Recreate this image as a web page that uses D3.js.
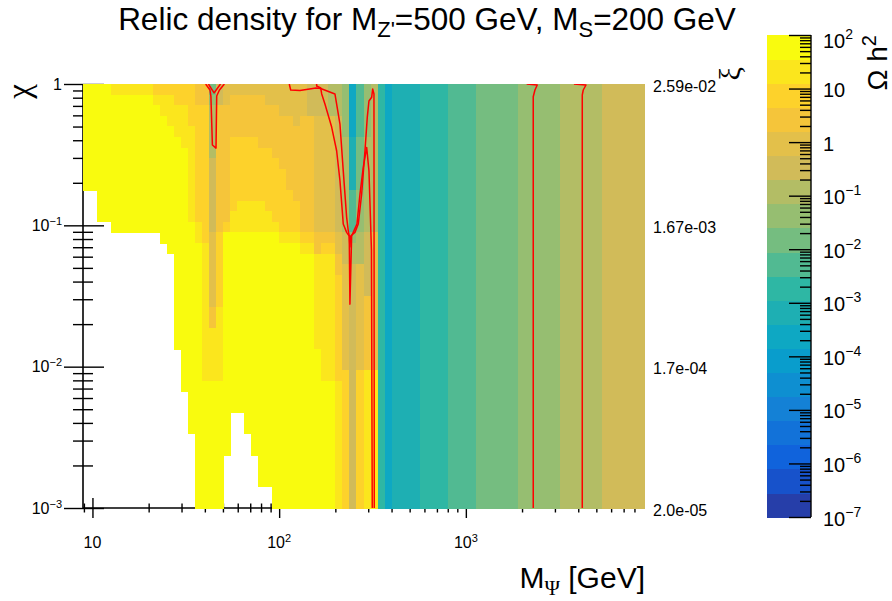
<!DOCTYPE html>
<html>
<head>
<meta charset="utf-8">
<script src="https://cdn.jsdelivr.net/npm/d3@7"></script>
<style>
body { margin: 0; background: #fff; }
svg { display: block; }
text { font-family: "Liberation Sans", Arial, Helvetica, sans-serif; fill: #000; }
.greek { font-family: "Liberation Serif", "DejaVu Serif", serif; }
</style>
</head>
<body>
<div class="relic"></div>
<script>
// relic density map, Omega h^2 over (M_Psi, chi)

WIDTH = 892
HEIGHT = 601
// histogram frame and palette box, pixels
PLOT_L = 83, PLOT_R = 644, PLOT_T = 84, PLOT_B = 508
PAL_L = 767, PAL_R = 811, PAL_T = 35, PAL_B = 517

// axis ranges
var massRange = [8.9, 9000];       // M_Psi [GeV]
var chiRange = [1e-3, 1];
var omegaRange = [1e-7, 1e2];
var massBins = 80, chiBins = 40;

var massTicks = [10, 100, 1000];
var chiTicks = [1, 1e-1, 1e-2, 1e-3];
var xiLabels = ["2.59e-02", "1.67e-03", "1.7e-04", "2.0e-05"];
var omegaTicks = [1e2, 1e1, 1, 1e-1, 1e-2, 1e-3, 1e-4, 1e-5, 1e-6, 1e-7];

// Omega h^2, one char per bin, coded by colour band:
// band k covers 10^(-7+0.45k) .. 10^(-7+0.45(k+1)), "." = no point.
// rows run from chi = 1 down to chi = 1e-3, first 42 mass bins
var bandKeys = "0123456789abcdefghij";
var omegaRows = [
  "jjjj iiiiii hhhhhh ggbeff ffffff ffffee eddc7a cd",
  "jjjj jjjjjj iiihhh ggcefg ggggff ffffee eddc7a cd",
  "jjjj jjjjjj jiiiih hhdggg gggggg ffffee eddc7a cd",
  "jjjj jjjjjj jjiiih hhdggg gggggg ggfggf ffec7a cd",
  "jjjj jjjjjj jjjiii hhdggg gggggg gggggf ffec7a cd",
  "jjjj jjjjjj jjjjii hhdggh hhhggg gggggf ffed8b dd",
  "jjjj jjjjjj jjjjji hhdggh hhhhhg gggggf ffed8b dd",
  "jjjj jjjjjj jjjjji hheggh hhhhhh gggggf ffed8b dd",
  "jjjj jjjjjj jjjjji hheggh hhhhhh hggggf ffed8b dd",
  "jjjj jjjjjj jjjjji hheggh hhhhhh hggggf ffed8b dd",
  "..jj jjjjjj jjjjji hheggh hhhhhh hhgggf ffedac dd",
  "..jj jjjjjj jjjjji hheggh iiiihh hhhggf ffedac dd",
  "..jj jjjjjj jjjjji hheggi iiiiih hhhggf ffedac dd",
  ".... jjjjjj jjjjjj iheghi iiiiii hhhggf ffedac dd",
  ".... ...... .jjjjj ihfhjj jjjjjj iiihhg ggfecd ef",
  ".... ...... ..jjjj jifhjj jjjjjj jjjiig hhfedd ef",
  ".... ...... ...jjj jifhjj jjjjjj jjjjji iigedd ef",
  ".... ...... ...jjj jifhjj jjjjjj jjjjji iigfef ef",
  ".... ...... ...jjj jifhjj jjjjjj jjjjji iihfef ef",
  ".... ...... ...jjj jifhjj jjjjjj jjjjji iihfef ef",
  ".... ...... ...jjj jifhjj jjjjjj jjjjji iihfef gf",
  ".... ...... ...jjj jigijj jjjjjj jjjjji iihfef gf",
  ".... ...... ...jjj jigijj jjjjjj jjjjji iihfef gf",
  ".... ...... ...jjj jiiijj jjjjjj jjjjji iihfef gf",
  ".... ...... ...jjj jiiijj jjjjjj jjjjji iihfef gf",
  ".... ...... ....jj jiiijj jjjjjj jjjjjj iihfef gf",
  ".... ...... ....jj jiiijj jjjjjj jjjjjj iihfef gf",
  ".... ...... ....jj jiiijj jjjjjj jjjjjj iihheh ii",
  ".... ...... ....jj jjjjjj jjjjjj jjjjjj jjiheh ii",
  ".... ...... .....j jjjjjj jjjjjj jjjjjj jjiheh ii",
  ".... ...... .....j jjjjjj jjjjjj jjjjjj jjiheh ii",
  ".... ...... .....j jjjjj. .jjjjj jjjjjj jjiheh ii",
  ".... ...... .....j jjjjj. .jjjjj jjjjjj jjiheh ii",
  ".... ...... ...... jjjjj. ..jjjj jjjjjj jjiheh ii",
  ".... ...... ...... jjjjj. ..jjjj jjjjjj jjiheh ii",
  ".... ...... ...... jjjj.. ...jjj jjjjjj jjiheh ii",
  ".... ...... ...... jjjj.. ...jjj jjjjjj jjiheh ii",
  ".... ...... ...... jjjj.. ...jjj jjjjjj jjiheh ii",
  ".... ...... ...... jjjj.. .....j jjjjjj jjiheh ii",
  ".... ...... ...... jjjj.. .....j jjjjjj jjiheh ii"
];
// above the Z'S threshold the value no longer depends on chi: mass bins 42..79
var omegaFar = "9788889999aaaabbbbbbccccccddddddeeeeee";

// red contours, [M_Psi, chi]
var contourZ1 = [[40.4, 1], [42.6, 0.907], [43.1, 0.822], [43.9, 0.370], [45.9, 0.352],
                 [46.3, 0.822], [47.9, 0.907], [50.9, 1]];
var contourZ2 = [[41.8, 1], [44.8, 0.864], [48.5, 1]];
var contourOuter = [[158.8, 1], [158.8, 0.968], [166.9, 0.937], [169.0, 0.850], [175.9, 0.722],
                    [191.1, 0.496], [203.2, 0.337], [211.7, 0.207], [220.5, 0.1021], [229.9, 0.0892],
                    [237.4, 0.0840], [239.4, 0.0702], [241.5, 0.0840], [254.7, 0.0892], [265.3, 0.1021],
                    [276.7, 0.1665], [288.2, 0.337], [296.5, 0.581], [302.7, 0.758], [313.0, 0.805],
                    [316.9, 0.922], [322.0, 0.850], [323.2, 0.001]];
var contourInner = [[113.3, 1], [115.3, 0.907], [129.2, 0.899], [157.4, 0.937], [166.9, 0.929],
                    [199.0, 0.850], [211.7, 0.521], [220.5, 0.243], [229.9, 0.1139], [234.5, 0.0916],
                    [237.4, 0.0840], [239.4, 0.0277], [244.5, 0.0840], [249.4, 0.0892], [261.1, 0.1021],
                    [271.0, 0.1665], [282.2, 0.257], [294.3, 0.356], [302.7, 0.243], [312.2, 0.0669],
                    [315.3, 0.001]];
var contourHeavy1 = [[2117, 1], [2412, 0.984], [2345, 0.907], [2296, 0.813], [2296, 0.001]];
var contourHeavy2 = [[3793, 1], [4399, 0.984], [4255, 0.907], [4203, 0.836], [4203, 0.001]];

// ROOT kParula, 20 contour levels
var parulaStops = [0, 0.125, 0.25, 0.375, 0.5, 0.625, 0.75, 0.875, 1];
var parulaR = [0.2082, 0.0592, 0.0780, 0.0232, 0.1802, 0.5301, 0.8186, 0.9956, 0.9764];
var parulaG = [0.1664, 0.3599, 0.5041, 0.6419, 0.7178, 0.7492, 0.7328, 0.7862, 0.9832];
var parulaB = [0.5293, 0.8684, 0.8385, 0.7914, 0.6425, 0.4662, 0.3499, 0.1968, 0.0539];
var NCONT = 20;

var parula = d3.scaleLinear()
    .domain(parulaStops)
    .range(parulaStops.map(function(s, i) {
        return d3.rgb(parulaR[i] * 255, parulaG[i] * 255, parulaB[i] * 255).formatHex();
    }));
var bandColors = d3.range(NCONT).map(function(k) { return parula((k + 0.99) / NCONT); });
var colour = d3.scaleQuantize()
    .domain([Math.log10(omegaRange[0]), Math.log10(omegaRange[1])])
    .range(bandColors);

var x = d3.scaleLog().domain(massRange).range([PLOT_L, PLOT_R]);
var y = d3.scaleLog().domain(chiRange).range([PLOT_B, PLOT_T]);
var z = d3.scaleLog().domain(omegaRange).range([PAL_B, PAL_T]);

var svg = d3.select(".relic").append("svg")
    .attr("width", WIDTH)
    .attr("height", HEIGHT)
    .style("background", "#fff");

function minors(lo, hi) {
    var out = [];
    for (var e = Math.floor(Math.log10(lo) + 1e-9); e < Math.ceil(Math.log10(hi) - 1e-9); e++)
        for (var m = 2; m <= 9; m++) {
            var v = m * Math.pow(10, e);
            if (v > lo && v < hi) out.push(v);
        }
    return out;
}

function tickSet(g, axisFn, scale, values, size) {
    g.call(axisFn(scale).tickValues(values).tickSize(size).tickSizeOuter(0).tickFormat(""));
    g.select(".domain").remove();
    g.selectAll("line").attr("stroke", "#000").attr("stroke-width", 1.4);
}

// 10^n labels as ROOT writes them
function powerLabel(sel, v, supSize, rise) {
    var e = Math.round(Math.log10(v));
    if (e === 0) sel.text("1");
    else if (e === 1) sel.text("10");
    else {
        sel.append("tspan").text("10");
        sel.append("tspan").attr("dy", -rise).style("font-size", supSize + "px")
            .text((e < 0 ? "\u2212" : "") + Math.abs(e));
    }
}

// ---- axes (drawn first, the histogram covers them) ----
var yAxis = svg.append("g").attr("transform", "translate(" + PLOT_L + ",0)");
tickSet(yAxis.append("g"), d3.axisLeft, y, chiTicks, 19);
tickSet(yAxis.append("g"), d3.axisRight, y, chiTicks, 21);
tickSet(yAxis.append("g"), d3.axisLeft, y, minors(chiRange[0], chiRange[1]), 10);
tickSet(yAxis.append("g"), d3.axisRight, y, minors(chiRange[0], chiRange[1]), 10);
svg.append("line")
    .attr("x1", PLOT_L).attr("x2", PLOT_L)
    .attr("y1", PLOT_T).attr("y2", PLOT_B)
    .style("stroke", "#000").style("stroke-width", 1.6);

var xAxis = svg.append("g").attr("transform", "translate(0," + PLOT_B + ")");
tickSet(xAxis.append("g"), d3.axisTop, x, massTicks, 10);
tickSet(xAxis.append("g"), d3.axisBottom, x, massTicks, 10);
tickSet(xAxis.append("g"), d3.axisTop, x, minors(massRange[0], massRange[1]), 4.5);
tickSet(xAxis.append("g"), d3.axisBottom, x, minors(massRange[0], massRange[1]), 4.5);
svg.append("line")
    .attr("x1", PLOT_L).attr("x2", PLOT_R)
    .attr("y1", PLOT_B).attr("y2", PLOT_B)
    .style("stroke", "#000").style("stroke-width", 1.6);

// ---- histogram ----
var massEdges = d3.range(massBins + 1).map(function(i) {
    return massRange[0] * Math.pow(massRange[1] / massRange[0], i / massBins);
});
var chiEdges = d3.range(chiBins + 1).map(function(j) {
    return chiRange[1] * Math.pow(chiRange[0] / chiRange[1], j / chiBins);
});

var cells = [];
omegaRows.forEach(function(row, j) {
    var keys = row.replace(/ /g, "") + omegaFar;
    for (var i = 0; i < massBins; i++) {
        var k = bandKeys.indexOf(keys[i]);
        if (k < 0) continue;
        cells.push({ i: i, j: j, omega: Math.pow(10, -7 + 0.45 * (k + 0.5)) });
    }
});

svg.append("g")
    .attr("shape-rendering", "crispEdges")
    .selectAll("rect")
    .data(cells)
    .join("rect")
    .attr("x", function(d) { return x(massEdges[d.i]); })
    .attr("y", function(d) { return y(chiEdges[d.j]); })
    .attr("width", function(d) { return x(massEdges[d.i + 1]) - x(massEdges[d.i]) + 0.6; })
    .attr("height", function(d) { return y(chiEdges[d.j + 1]) - y(chiEdges[d.j]) + 0.6; })
    .style("fill", function(d) { return colour(Math.log10(d.omega)); });

// ---- contours ----
svg.append("clipPath").attr("id", "frame")
    .append("rect")
    .attr("x", PLOT_L).attr("y", PLOT_T)
    .attr("width", PLOT_R - PLOT_L).attr("height", PLOT_B - PLOT_T);

var contourLine = d3.line()
    .x(function(d) { return x(d[0]); })
    .y(function(d) { return y(d[1]); });

svg.append("g")
    .attr("clip-path", "url(#frame)")
    .selectAll("path")
    .data([contourZ1, contourZ2, contourOuter, contourInner, contourHeavy1, contourHeavy2])
    .join("path")
    .attr("d", contourLine)
    .style("fill", "none")
    .style("stroke", "#ff0000")
    .style("stroke-width", 1.5)
    .style("stroke-linejoin", "round");

// ---- tick labels ----
svg.append("g").selectAll("text")
    .data(chiTicks)
    .join("text")
    .attr("x", 62)
    .attr("y", function(d) { return y(d) + 5.5; })
    .attr("text-anchor", "end")
    .style("font-size", "16px")
    .each(function(d) { powerLabel(d3.select(this), d, 11, 6); });

svg.append("g").selectAll("text")
    .data(massTicks)
    .join("text")
    .attr("x", function(d) { return x(d); })
    .attr("y", 548)
    .attr("text-anchor", "middle")
    .style("font-size", "16px")
    .each(function(d) { powerLabel(d3.select(this), d, 11, 6); });

// xi axis on the right
svg.append("g").selectAll("text")
    .data(chiTicks)
    .join("text")
    .attr("x", 653)
    .attr("y", function(d) { return y(d) + 7.5; })
    .style("font-size", "16px")
    .text(function(d, i) { return xiLabels[i]; });

// ---- palette ----
svg.append("g")
    .attr("shape-rendering", "crispEdges")
    .selectAll("rect")
    .data(bandColors)
    .join("rect")
    .attr("x", PAL_L)
    .attr("width", PAL_R - PAL_L)
    .attr("y", function(c, k) { return z(Math.pow(10, -7 + 0.45 * (k + 1))); })
    .attr("height", function(c, k) {
        return z(Math.pow(10, -7 + 0.45 * k)) - z(Math.pow(10, -7 + 0.45 * (k + 1))) + 0.6;
    })
    .style("fill", function(c) { return c; });

var zAxis = svg.append("g").attr("transform", "translate(" + PAL_R + ",0)");
tickSet(zAxis.append("g"), d3.axisLeft, z, omegaTicks, 22);
tickSet(zAxis.append("g"), d3.axisLeft, z, minors(omegaRange[0], omegaRange[1]), 11);
svg.append("line")
    .attr("x1", PAL_R).attr("x2", PAL_R)
    .attr("y1", PAL_T).attr("y2", PAL_B)
    .style("stroke", "#000").style("stroke-width", 1.4);

svg.append("g").selectAll("text")
    .data(omegaTicks)
    .join("text")
    .attr("x", 823)
    .attr("y", function(d, i) { return z(d) + (i === 0 ? 13 : 8.5); })
    .style("font-size", "20px")
    .each(function(d) { powerLabel(d3.select(this), d, 14, 9); });

// ---- titles ----
var title = svg.append("text")
    .attr("x", 427).attr("y", 30)
    .attr("text-anchor", "middle")
    .style("font-size", "31.5px");
title.append("tspan").text("Relic density for M");
title.append("tspan").attr("dy", 7).style("font-size", "22px").text("Z'");
title.append("tspan").attr("dy", -7).text("=500 GeV, M");
title.append("tspan").attr("dy", 7).style("font-size", "22px").text("S");
title.append("tspan").attr("dy", -7).text("=200 GeV");

var xTitle = svg.append("text")
    .attr("x", 645).attr("y", 588)
    .attr("text-anchor", "end")
    .style("font-size", "30px");
xTitle.append("tspan").text("M");
xTitle.append("tspan").attr("class", "greek").attr("dy", 7).style("font-size", "21px").text("\u03a8");
xTitle.append("tspan").attr("dy", -7).text(" [GeV]");

svg.append("text")
    .attr("class", "greek")
    .attr("transform", "translate(30,84) rotate(-90)")
    .attr("text-anchor", "end")
    .style("font-size", "33px")
    .text("\u03c7");

svg.append("text")
    .attr("class", "greek")
    .attr("transform", "translate(740,67) rotate(-90)")
    .attr("text-anchor", "end")
    .style("font-size", "30px")
    .text("\u03be");

var zTitle = svg.append("text")
    .attr("transform", "translate(887," + PAL_T + ") rotate(-90)")
    .attr("text-anchor", "end")
    .style("font-size", "28px");
zTitle.append("tspan").text("\u03a9 h");
zTitle.append("tspan").attr("dy", -11).style("font-size", "20px").text("2");
</script>
</body>
</html>
